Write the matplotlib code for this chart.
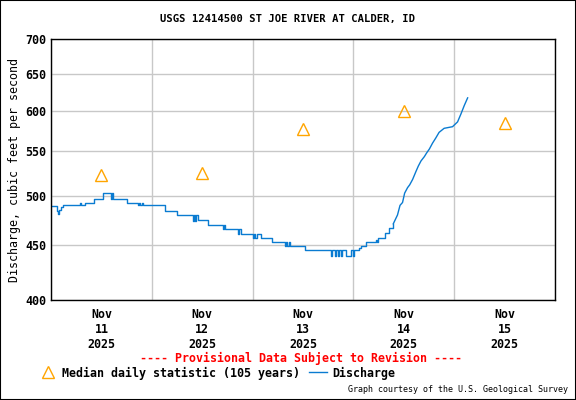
import numpy as np
import pandas as pd
import matplotlib
matplotlib.use("Agg")
import matplotlib.pyplot as plt
import matplotlib.dates as mdates
from matplotlib.ticker import FixedLocator, NullLocator, NullFormatter
from matplotlib.patches import Rectangle

# discharge: hours since Nov 11 00:00 -> cfs
flat_hours = [0.0, 1.4, 1.7, 2.0, 2.4, 2.9, 6.9, 7.2, 8.1, 10.3, 12.4, 14.2, 14.5, 14.8,
              18.0, 20.7, 21.0, 21.3, 21.7, 22.0, 27.1, 29.9, 33.8, 34.0, 34.3, 34.6, 35.0,
              37.4, 40.9, 41.1, 41.35, 44.5, 44.8, 45.3, 48.1, 48.3, 48.6, 49.0, 49.9, 52.6,
              55.6, 55.9, 56.3, 56.6, 57.0, 60.4, 66.7, 67.0, 67.6, 67.9, 68.3, 68.6, 69.0,
              69.4, 70.3, 71.5, 71.8, 72.2, 72.5, 73.4, 73.8, 75.0, 77.4, 77.6, 77.8, 79.5,
              80.5, 81.5]
flat_cfs = [489, 484, 481, 485, 488, 490, 492, 490, 492, 497, 503, 497, 503, 497,
            492, 490, 492, 490, 492, 490, 484, 480, 474, 480, 474, 480, 475,
            470, 466, 470, 466, 461, 466, 461, 457, 461, 457, 461, 457, 453,
            449, 453, 449, 453, 449, 445, 440, 445, 440, 445, 440, 445, 440,
            445, 440, 445, 440, 445, 445, 447, 449, 453, 455, 453, 457, 462,
            467, 471]

rise_hours = [82.5, 83.1, 83.7, 84.2, 84.9, 85.4, 86.1, 86.9, 87.45, 88.1, 88.9, 89.4,
              90.1, 90.85, 91.6, 92.4, 93.6, 95.6, 96.8, 97.6, 98.4, 99.2]
rise_cfs = [480, 490, 493, 503, 509, 512, 518, 527, 533, 539, 544, 548,
            553, 560, 566, 573, 578, 580, 586, 596, 607, 617]

# median daily statistic (105 years), at noon of each day
median_days = ["2025-11-11 12:00", "2025-11-12 12:00", "2025-11-13 12:00",
               "2025-11-14 12:00", "2025-11-15 12:00"]
median_cfs = [523, 525, 577, 600, 585]

y_ticks = [400, 450, 500, 550, 600, 650, 700]

base = pd.Timestamp("2025-11-11")
flat_t = base + pd.to_timedelta(flat_hours, unit="h")
rise_t = base + pd.to_timedelta(rise_hours, unit="h")
med_t = pd.to_datetime(median_days)

mono = "DejaVu Sans Mono"
plt.rcParams["font.family"] = mono
plt.rcParams["font.weight"] = "bold"

fig = plt.figure(figsize=(5.76, 4.0), dpi=100)
ax = fig.add_axes([51 / 576, 0.25, 504 / 576, 261 / 400])

blue = "#0a7bd1"
# the flat stretch is a staircase, the rise is drawn as a line
ax.plot(flat_t, flat_cfs, drawstyle="steps-post", color=blue, lw=1.0)
ax.plot([flat_t[-1]] + list(rise_t), [flat_cfs[-1]] + rise_cfs, color=blue, lw=1.0)
ax.plot(med_t, median_cfs, linestyle="none", marker="^", markersize=8,
        markerfacecolor="none", markeredgecolor="#ffa500", markeredgewidth=1.0)

ax.set_yscale("log")
ax.set_ylim(400, 700)
ax.yaxis.set_major_locator(FixedLocator(y_ticks))
ax.yaxis.set_major_formatter(plt.FixedFormatter([str(v) for v in y_ticks]))
ax.yaxis.set_minor_locator(NullLocator())
ax.yaxis.set_minor_formatter(NullFormatter())

ax.set_xlim(pd.Timestamp("2025-11-11"), pd.Timestamp("2025-11-16"))
ax.xaxis.set_major_locator(mdates.DayLocator())
ax.xaxis.set_major_formatter(NullFormatter())
ax.xaxis.set_minor_locator(mdates.HourLocator(byhour=[12]))
ax.xaxis.set_minor_formatter(mdates.DateFormatter("%b\n%d\n%Y"))

ax.grid(True, which="major", color="#c8c8c8", lw=1.0)
ax.tick_params(which="both", length=0, labelsize=8.4)
ax.tick_params(axis="x", which="minor", pad=6)
for lbl in ax.get_xticklabels(minor=True):
    lbl.set_linespacing(1.2)
for s in ax.spines.values():
    s.set_color("black")
    s.set_linewidth(1.0)

ax.set_ylabel("Discharge, cubic feet per second", fontsize=8.4, labelpad=3)

fig.text(0.5, 1 - 19 / 400, "USGS 12414500 ST JOE RIVER AT CALDER, ID",
         ha="center", va="center", fontsize=7.6)
fig.text(301 / 576, 1 - 358 / 400, "---- Provisional Data Subject to Revision ----",
         ha="center", va="center", fontsize=8.4, color="red")

# legend laid out by hand like the gauge page
fig.lines.append(plt.Line2D([48 / 576], [1 - 372 / 400], transform=fig.transFigure,
                            marker="^", markersize=8, markerfacecolor="none",
                            markeredgecolor="#ffa500", linestyle="none"))
fig.text(62 / 576, 1 - 373 / 400, "Median daily statistic (105 years)",
         ha="left", va="center", fontsize=8.4)
fig.lines.append(plt.Line2D([309 / 576, 327 / 576], [1 - 372 / 400] * 2,
                            transform=fig.transFigure, color=blue, lw=1.0))
fig.text(332 / 576, 1 - 373 / 400, "Discharge", ha="left", va="center", fontsize=8.4)
fig.text(568 / 576, 1 - 390 / 400, "Graph courtesy of the U.S. Geological Survey",
         ha="right", va="center", fontsize=6.0, fontweight="normal")

fig.patches.append(Rectangle((0, 0), 1, 1, transform=fig.transFigure, fill=False,
                             edgecolor="black", lw=1.5))

fig.savefig("out.png", dpi=100)
